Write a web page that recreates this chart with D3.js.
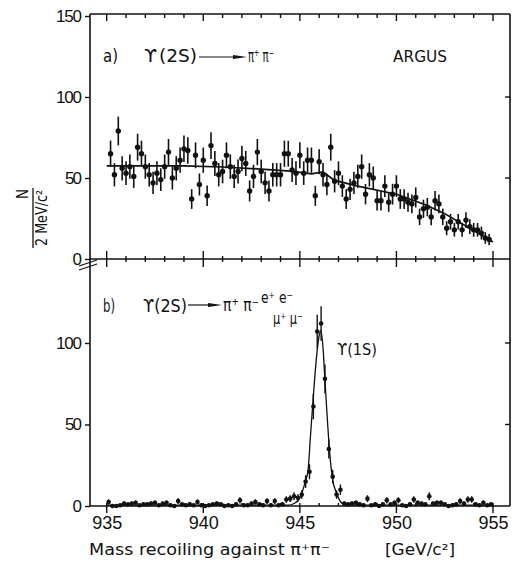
<!DOCTYPE html>
<html>
<head>
<meta charset="utf-8">
<title>ARGUS recoil mass</title>
<script src="https://cdn.jsdelivr.net/npm/d3@7"></script>
<style>
  body { margin: 0; background: #fff; }
  svg { font-family: "Liberation Sans Narrow", "DejaVu Sans Condensed", "Liberation Sans", sans-serif; }
</style>
</head>
<body>
<script>
// bin centres (GeV/c^2 * 100) and counts per 2 MeV/c^2, panel a
var xA = [935.2,935.4,935.6,935.8,936.0,936.2,936.4,936.6,936.8,937.0,
          937.2,937.4,937.6,937.8,938.0,938.2,938.4,938.6,938.8,939.0,
          939.2,939.4,939.6,939.8,940.0,940.2,940.4,940.6,940.8,941.0,
          941.2,941.4,941.6,941.8,942.0,942.2,942.4,942.6,942.8,943.0,
          943.2,943.4,943.6,943.8,944.0,944.2,944.4,944.6,944.8,945.0,
          945.2,945.4,945.6,945.8,946.0,946.2,946.4,946.6,946.8,947.0,
          947.2,947.4,947.6,947.8,948.0,948.2,948.4,948.6,948.8,949.0,
          949.2,949.4,949.6,949.8,950.0,950.2,950.4,950.6,950.8,951.0,
          951.2,951.4,951.6,951.8,952.0,952.2,952.4,952.6,952.8,953.0,
          953.2,953.4,953.6,953.8,954.0,954.2,954.4,954.6,954.8];
var nA = [65,52,79,56,53,57,51,69,65,57,
          52,47,53,49,57,66,50,56,61,68,
          67,37,64,46,61,39,70,59,52,54,
          64,57,51,54,62,59,42,51,66,54,
          47,42,52,52,52,65,65,55,53,64,
          53,61,61,39,60,52,46,69,48,53,
          45,37,43,47,51,57,40,52,50,36,
          36,45,35,40,45,37,37,35,34,38,
          26,31,32,26,36,34,26,19,23,18,
          23,18,24,20,18,18,16,13,12];
var eA = [8.1,7.2,8.9,7.5,7.3,7.5,7.1,8.3,8.0,7.5,
          7.2,6.9,7.3,7.0,7.5,8.1,7.1,7.5,7.8,8.2,
          8.2,6.1,8.0,6.8,7.8,6.3,8.3,7.7,7.2,7.3,
          8.0,7.6,7.2,7.4,7.9,7.7,6.5,7.2,8.1,7.3,
          6.8,6.5,7.2,7.2,7.2,8.1,8.0,7.4,7.3,8.0,
          7.3,7.8,7.8,6.2,7.7,7.2,6.7,8.3,6.9,7.3,
          6.7,6.1,6.6,6.9,7.2,7.5,6.3,7.2,7.1,6.0,
          6.0,6.7,5.9,6.4,6.7,6.1,6.1,5.9,5.8,6.2,
          5.1,5.6,5.7,5.1,6.0,5.8,5.1,4.3,4.8,4.2,
          4.8,4.3,4.9,4.5,4.3,4.2,4.0,3.6,3.5];
// fitted background, panel a
var fitAx = [935, 937, 939, 941, 943, 944.5, 945.6, 946.2, 946.8, 948, 950, 951.5, 952.5, 953.5, 954.5, 955];
var fitAy = [57.5, 57.5, 57.5, 56.8, 55.5, 54.3, 52.5, 53.7, 48.5, 45, 40, 33.5, 28, 21, 14, 10.5];

// panel b
var xB = [935.1,935.3,935.5,935.7,935.9,936.1,936.3,936.5,936.7,936.9,
          937.1,937.3,937.5,937.7,937.9,938.1,938.3,938.5,938.7,938.9,
          939.1,939.3,939.5,939.7,939.9,940.1,940.3,940.5,940.7,940.9,
          941.1,941.3,941.5,941.7,941.9,942.1,942.3,942.5,942.7,942.9,
          943.1,943.3,943.5,943.7,943.9,944.1,944.3,944.5,944.7,944.9,
          945.1,945.3,945.5,945.7,945.9,946.1,946.3,946.5,946.7,946.9,
          947.1,947.3,947.5,947.7,947.9,948.1,948.3,948.5,948.7,948.9,
          949.1,949.3,949.5,949.7,949.9,950.1,950.3,950.5,950.7,950.9,
          951.1,951.3,951.5,951.7,951.9,952.1,952.3,952.5,952.7,952.9,
          953.1,953.3,953.5,953.7,953.9,954.1,954.3,954.5,954.7,954.9];
var nB = [2.5,0,0,0.5,1.5,1,1.5,2,0.5,1,
          1,1.5,2,0.5,1.5,2,0.5,0,3,1,
          0.5,1,0.5,2.5,0.5,0,0.5,1,1.5,1,
          0,0.5,0,1,3.5,0.5,0.5,1.5,2.5,1,
          0.5,3,0.5,3,0.5,1,4,4.5,6,5,
          7,15,21,61,107,112,78,35,18,7,
          10,1.5,1,1.5,2,1,0.5,4.5,0.5,1,
          0,1,3.5,1,2,3.5,0.5,0,1,4,
          2,1.5,1,6,1.5,2,2,1,0,0.5,
          1,3,1.5,4,4,1,0.5,2,0.5,1];
var eB = [1.6,1,1,1,1.2,1,1.2,1.4,1,1,
          1,1.2,1.4,1,1.2,1.4,1,1,1.7,1,
          1,1,1,1.6,1,1,1,1,1.2,1,
          1,1,1,1,1.9,1,1,1.2,1.6,1,
          1,1.7,1,1.7,1,1,2,2.1,2.4,2.2,
          2.6,3.9,4.6,7.8,10.3,10.6,8.8,5.9,4.2,2.6,
          3.2,1.2,1,1.2,1.4,1,1,2.1,1,1,
          1,1,1.9,1,1.4,1.9,1,1,1,2,
          1.4,1.2,1,2.4,1.2,1.4,1.4,1,1,1,
          1,1.7,1.2,2,2,1,1,1.4,1,1];
var fitBx = [935, 944.4, 944.7, 945.0, 945.26, 945.43, 945.55, 945.69, 945.86, 946.0, 946.09, 946.2, 946.3, 946.43, 946.55, 946.7, 946.9, 947.15, 947.4, 955];
var fitBy = [0.5, 0.5, 1.5, 5, 14, 22.5, 43, 66, 91, 104.5, 107.6, 97, 77, 52, 32, 16, 8, 2, 0.5, 0.5];

var majorTicks = [935, 940, 945, 950, 955];
var minorTicks = [936,937,938,939,941,942,943,944,946,947,948,949,951,952,953,954];

var w = 515, h = 561;
var L = 90, R = 510, T = 14;

var svg = d3.select("body").append("svg").attr("width", w).attr("height", h);

var x = d3.scaleLinear().domain([935, 955]).range([106.7, 493]);
var yA = d3.scaleLinear().domain([0, 100]).range([259, 97]);
var yB = d3.scaleLinear().domain([0, 100]).range([506, 343]);
var M = yA(0), B = yB(0);

// frame
var frame = svg.append("g").attr("stroke", "#111").attr("stroke-width", 1.6).attr("fill", "none");
frame.append("line").attr("x1", L).attr("x2", L).attr("y1", T).attr("y2", B);
frame.append("line").attr("x1", R).attr("x2", R).attr("y1", T).attr("y2", B);
frame.append("line").attr("x1", L).attr("x2", R).attr("y1", T).attr("y2", T);
frame.append("line").attr("x1", L).attr("x2", R).attr("y1", M).attr("y2", M);
frame.append("line").attr("x1", L).attr("x2", R).attr("y1", B).attr("y2", B);

// tick marks along a horizontal line: up / down lengths
function xTicks(vals, py, up, down) {
  svg.append("g").selectAll("line").data(vals).enter().append("line")
    .attr("x1", function(d) { return x(d); })
    .attr("x2", function(d) { return x(d); })
    .attr("y1", py - up).attr("y2", py + down)
    .attr("stroke", "#111").attr("stroke-width", 1.4);
}
xTicks(majorTicks, T, 0, 7);
xTicks(minorTicks, T, 0, 4);
xTicks(majorTicks, M, 8, 8);
xTicks(minorTicks, M, 3, 3);
xTicks(majorTicks, B, 3, 7);
xTicks(minorTicks, B, 3, 0);

// bottom labels
var xAxis = svg.append("g").attr("transform", "translate(0," + B + ")")
  .call(d3.axisBottom(x).tickValues(majorTicks).tickSize(7).tickPadding(3).tickFormat(d3.format("d")));
xAxis.select(".domain").remove();
xAxis.selectAll(".tick line").remove();
xAxis.selectAll("text").attr("font-size", 18).attr("fill", "#111")
  .attr("textLength", 30).attr("lengthAdjust", "spacing").attr("font-family", null);

// left axes
function leftAxis(scale, vals) {
  var g = svg.append("g").attr("transform", "translate(" + L + ",0)")
    .call(d3.axisLeft(scale).tickValues(vals).tickSize(5).tickPadding(3).tickFormat(d3.format("d")));
  g.select(".domain").remove();
  g.selectAll(".tick line").attr("stroke", "#111").attr("stroke-width", 1.4);
  g.selectAll("text").attr("font-size", 17).attr("fill", "#111").attr("font-family", null)
    .attr("textLength", function(d) { return String(d).length * 9 - 1; })
    .attr("lengthAdjust", "spacing");
  return g;
}
leftAxis(yA, [0, 50, 100, 150]);
leftAxis(yB, [0, 50, 100]);

// right side ticks (inward)
[yA, yB].forEach(function(s) {
  svg.append("g").selectAll("line").data([50, 100]).enter().append("line")
    .attr("x1", R - 5).attr("x2", R)
    .attr("y1", function(d) { return s(d); })
    .attr("y2", function(d) { return s(d); })
    .attr("stroke", "#111").attr("stroke-width", 1.4);
});

// axis break
var brk = svg.append("g").attr("stroke", "#111").attr("stroke-width", 1.3);
brk.append("line").attr("x1", 79).attr("y1", 266).attr("x2", 97).attr("y2", 260);
brk.append("line").attr("x1", 79).attr("y1", 270).attr("x2", 97).attr("y2", 264);

// panel a data
var ptsA = xA.map(function(v, i) { return { x: v, n: nA[i], e: eA[i] }; });
var gA = svg.append("g");
gA.selectAll("line").data(ptsA).enter().append("line")
  .attr("x1", function(d) { return x(d.x); })
  .attr("x2", function(d) { return x(d.x); })
  .attr("y1", function(d) { return yA(d.n - d.e); })
  .attr("y2", function(d) { return yA(d.n + d.e); })
  .attr("stroke", "#111").attr("stroke-width", 1.6);
gA.selectAll("circle").data(ptsA).enter().append("circle")
  .attr("cx", function(d) { return x(d.x); })
  .attr("cy", function(d) { return yA(d.n); })
  .attr("r", 2.7).attr("fill", "#111");

var fitA = fitAx.map(function(v, i) { return [v, fitAy[i]]; });
svg.append("path").datum(fitA)
  .attr("d", d3.line().x(function(d) { return x(d[0]); }).y(function(d) { return yA(d[1]); }))
  .attr("fill", "none").attr("stroke", "#111").attr("stroke-width", 1.7);

// panel b data
var fitB = fitBx.map(function(v, i) { return [v, fitBy[i]]; });
svg.append("path").datum(fitB)
  .attr("d", d3.line().curve(d3.curveMonotoneX).x(function(d) { return x(d[0]); }).y(function(d) { return yB(d[1]); }))
  .attr("fill", "none").attr("stroke", "#111").attr("stroke-width", 1.3);

var ptsB = xB.map(function(v, i) { return { x: v, n: nB[i], e: eB[i] }; });
var gB = svg.append("g");
gB.selectAll("line").data(ptsB).enter().append("line")
  .attr("x1", function(d) { return x(d.x); })
  .attr("x2", function(d) { return x(d.x); })
  .attr("y1", function(d) { return yB(Math.max(0, d.n - d.e)); })
  .attr("y2", function(d) { return yB(d.n + d.e); })
  .attr("stroke", "#111").attr("stroke-width", 1.4);
gB.selectAll("circle").data(ptsB).enter().append("circle")
  .attr("cx", function(d) { return x(d.x); })
  .attr("cy", function(d) { return yB(d.n); })
  .attr("r", 2.3).attr("fill", "#111");

// labels
function label(txt, px, py, size, len) {
  var t = svg.append("text").attr("x", px).attr("y", py).attr("font-size", size)
    .attr("fill", "#111").text(txt);
  if (len) t.attr("textLength", len).attr("lengthAdjust", "spacingAndGlyphs");
  return t;
}
function arrow(x1, x2, py) {
  svg.append("line").attr("x1", x1).attr("x2", x2 - 8).attr("y1", py).attr("y2", py)
    .attr("stroke", "#111").attr("stroke-width", 1.2);
  svg.append("path").attr("d", "M" + (x2 - 14) + "," + (py - 2) + "L" + x2 + "," + py + "L" + (x2 - 14) + "," + (py + 2) + "Z")
    .attr("fill", "#111");
}

label("a)", 103, 62, 17, 15);
label("\u03d2", 144, 62, 17, 13);
label("(2S)", 159, 62, 17, 38);
arrow(199, 247, 57);
label("\u03c0\u207a \u03c0\u207b", 248, 62, 17, 26);
label("ARGUS", 393, 62, 16, 54);

label("b)", 103, 312, 17, 12);
label("\u03d2(2S)", 143, 312, 17, 44);
arrow(188, 222, 305);
label("\u03c0\u207a \u03c0\u207b", 223, 311, 17, 36);
label("e\u207a e\u207b", 261, 303, 15, 32);
label("\u03bc\u207a \u03bc\u207b", 273, 324, 15, 30);
label("\u03d2(1S)", 337, 355, 16, 40);

label("Mass recoiling against \u03c0\u207a\u03c0\u207b", 89, 555, 16, 241);
label("[GeV/c\u00b2]", 385, 555, 16, 70);

// y title
var yt = svg.append("g").attr("transform", "translate(0,218) rotate(-90)");
yt.append("text").attr("x", 24).attr("y", 28).attr("text-anchor", "middle")
  .attr("font-size", 15).attr("fill", "#111").text("N");
yt.append("line").attr("x1", -30).attr("x2", 30).attr("y1", 33).attr("y2", 33)
  .attr("stroke", "#111").attr("stroke-width", 1.3);
yt.append("text").attr("x", 0).attr("y", 47).attr("text-anchor", "middle")
  .attr("font-size", 15).attr("fill", "#111")
  .attr("textLength", 56).attr("lengthAdjust", "spacingAndGlyphs").text("2 MeV/c\u00b2");
</script>
</body>
</html>
